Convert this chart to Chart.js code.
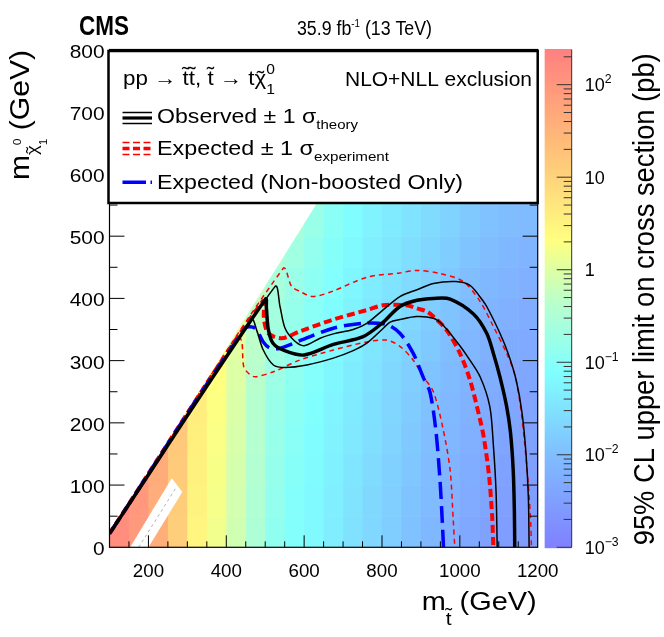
<!DOCTYPE html>
<html>
<head>
<meta charset="utf-8">
<script src="https://cdn.jsdelivr.net/npm/chart.js@4.4.1/dist/chart.umd.min.js"></script>
<style>
html, body { margin: 0; padding: 0; background: #fff; }
canvas { display: block; }
</style>
</head>
<body>
<canvas id="limitChart" width="664" height="637"></canvas>
<script>
'use strict'

// binning of the limit map (GeV)
const mStopBins = [100, 150, 200, 250, 300, 350, 400, 450, 500, 550, 600, 650, 700, 750, 800, 850, 900, 950, 1000, 1050, 1100, 1150, 1200];
const mLspBins = [0, 50, 100, 150, 200, 250, 300, 350, 400, 450, 500, 550, 600];

// 95% CL upper limit on cross section (pb), one row per mLSP bin from the bottom, null = not scanned
const limitRows = [
	[140, 90, 40, 12, 3.0, 1.6, 0.75, 0.32, 0.13, 0.085, 0.064, 0.045, 0.031, 0.022, 0.016, 0.011, 0.0080, 0.0060, 0.0045, 0.0036, 0.0031, 0.0028],
	[150, 95, 42, 13, 3.2, 1.7, 0.79, 0.34, 0.14, 0.090, 0.067, 0.047, 0.033, 0.023, 0.017, 0.012, 0.0086, 0.0065, 0.0050, 0.0039, 0.0033, 0.0030],
	[null, 100, 45, 14, 3.4, 1.8, 0.83, 0.36, 0.15, 0.096, 0.071, 0.050, 0.035, 0.025, 0.018, 0.013, 0.0092, 0.0070, 0.0054, 0.0042, 0.0036, 0.0032],
	[null, null, 48, 15, 3.6, 1.9, 0.88, 0.38, 0.16, 0.10, 0.075, 0.053, 0.038, 0.027, 0.020, 0.014, 0.010, 0.0076, 0.0059, 0.0046, 0.0039, 0.0035],
	[null, null, null, 16, 3.9, 2.0, 0.93, 0.40, 0.17, 0.11, 0.080, 0.057, 0.041, 0.029, 0.021, 0.015, 0.011, 0.0083, 0.0064, 0.0050, 0.0042, 0.0038],
	[null, null, null, null, 4.2, 2.1, 0.98, 0.43, 0.18, 0.12, 0.086, 0.061, 0.044, 0.032, 0.023, 0.017, 0.012, 0.0090, 0.0070, 0.0055, 0.0046, 0.0042],
	[null, null, null, null, null, 2.3, 1.05, 0.46, 0.20, 0.13, 0.094, 0.066, 0.048, 0.035, 0.026, 0.019, 0.014, 0.010, 0.0078, 0.0062, 0.0052, 0.0047],
	[null, null, null, null, null, null, 1.15, 0.50, 0.23, 0.15, 0.10, 0.073, 0.053, 0.038, 0.029, 0.022, 0.016, 0.012, 0.0088, 0.0070, 0.0060, 0.0053],
	[null, null, null, null, null, null, null, 0.56, 0.27, 0.17, 0.115, 0.081, 0.058, 0.042, 0.032, 0.025, 0.018, 0.014, 0.010, 0.0080, 0.0068, 0.0060],
	[null, null, null, null, null, null, null, null, 0.33, 0.21, 0.135, 0.091, 0.065, 0.047, 0.036, 0.028, 0.021, 0.016, 0.012, 0.0095, 0.0080, 0.0070],
	[null, null, null, null, null, null, null, null, null, 0.26, 0.17, 0.105, 0.073, 0.053, 0.041, 0.032, 0.025, 0.019, 0.014, 0.011, 0.0095, 0.0085],
	[null, null, null, null, null, null, null, null, null, null, 0.20, 0.13, 0.083, 0.060, 0.046, 0.036, 0.028, 0.021, 0.016, 0.013, 0.011, 0.010]
];

// edge of the scanned region and the m(stop) - m(LSP) = m(top) corridor
const scanEdge = [[100, 20], [880, 800]];
const topCorridor = [[153, 0], [200, 0], [287, 89], [260, 111]];
const topCorridorLine = [[175, 0], [273, 98]];

// exclusion contours (m stop, m LSP)
const observed = [[100, 22], [501, 399], [503, 385], [508, 350], [520, 328], [550, 316], [600, 309], [675, 326], [750, 338], [800, 360], [846, 387], [890, 397], [932, 400], [975, 399], [1035, 375], [1069, 344], [1086, 312], [1103, 274], [1120, 227], [1130, 185], [1137, 125], [1140, 60], [1141, 0]];
const observedUp = [[100, 22], [525, 419], [538, 387], [551, 352], [575, 332], [600, 324], [641, 336], [675, 343], [726, 350], [761, 360], [800, 380], [846, 403], [890, 414], [932, 424], [990, 427], [1026, 421], [1050, 404], [1069, 387], [1103, 344], [1125, 310], [1145, 268], [1160, 215], [1170, 150], [1176, 80], [1178, 0]];
const observedDown = [[100, 22], [465, 366], [478, 349], [495, 317], [521, 293], [551, 289], [607, 293], [675, 304], [726, 316], [761, 328], [800, 350], [821, 362], [846, 366], [889, 371], [932, 368], [957, 357], [1000, 324], [1018, 308], [1052, 274], [1077, 226], [1086, 165], [1093, 90], [1096, 0]];
const expected = [[100, 22], [493, 395], [497, 365], [508, 344], [542, 336], [589, 347], [675, 366], [760, 381], [803, 389], [863, 389], [889, 384], [915, 379], [932, 371], [966, 349], [1000, 312], [1026, 269], [1052, 205], [1062, 175], [1075, 115], [1083, 50], [1086, 0]];
const expectedUp = [[100, 22], [546, 448], [568, 419], [590, 411], [623, 403], [675, 412], [761, 434], [846, 441], [890, 445], [949, 440], [1009, 427], [1052, 395], [1086, 355], [1120, 312], [1140, 280], [1155, 230], [1166, 170], [1176, 100], [1182, 40], [1184, 0]];
const expectedDown = [[100, 22], [432, 337], [440, 330], [445, 290], [460, 278], [474, 274], [521, 282], [589, 301], [675, 317], [761, 330], [812, 333], [846, 323], [880, 301], [906, 274], [932, 250], [957, 190], [975, 124], [983, 44], [987, 0]];
const nonBoosted = [[100, 22], [448, 352], [474, 352], [495, 330], [512, 320], [538, 320], [589, 332], [675, 352], [750, 360], [812, 358], [846, 344], [880, 312], [906, 273], [923, 250], [938, 190], [949, 108], [955, 40], [958, 0]];

// axes
const xTicks = [200, 400, 600, 800, 1000, 1200];
const yTicks = [0, 100, 200, 300, 400, 500, 600, 700, 800];
const zTicks = [0.001, 0.01, 0.1, 1, 10, 100];
const zTickLabels = [['10', '\u22123'], ['10', '\u22122'], ['10', '\u22121'], ['1', ''], ['10', ''], ['10', '2']];

const paletteStops = [
	[0, [128, 128, 255]], [0.186, [128, 190, 255]], [0.351, [128, 255, 255]], [0.49, [185, 255, 205]],
	[0.617, [255, 255, 128]], [0.82, [255, 185, 120]], [1, [255, 128, 128]]
];

const FONT = "'Liberation Sans', Arial, sans-serif";

let fontOf = (px, bold) => (bold ? 'bold ' : '') + px + 'px ' + FONT;

let colourAt = (f) => {
	f = Math.max(0, Math.min(1, f));
	for (let i = 1; i < paletteStops.length; i++) {
		if (f <= paletteStops[i][0]) {
			let a = paletteStops[i - 1], b = paletteStops[i];
			let t = (f - a[0]) / (b[0] - a[0]);
			let c = a[1].map((v, k) => Math.round(v + (b[1][k] - v) * t));
			return 'rgb(' + c.join(',') + ')';
		}
	}
	return 'rgb(255,128,128)';
};

let colourFor = (zs, v) => colourAt((zs.bottom - zs.getPixelForValue(v)) / (zs.bottom - zs.top));

// text with sub/superscripts and tildes, optionally squeezed to a given length
let segWidth = (ctx, seg, size, bold) => {
	if (seg.sup !== undefined) {
		ctx.font = fontOf(size * seg.ss, bold);
		return Math.max(ctx.measureText(seg.sup).width, ctx.measureText(seg.sub).width);
	}
	ctx.font = fontOf(size * (seg.s || 1), bold);
	return ctx.measureText(seg.t).width;
};

let drawRich = (ctx, segs, o) => {
	ctx.save();
	let widths = segs.map((seg) => segWidth(ctx, seg, o.size, o.bold));
	let total = widths.reduce((a, b) => a + b, 0);
	let hs = o.fit ? o.fit / total : (o.hs || 1);
	ctx.translate(o.x, o.y);
	if (o.rot) ctx.rotate(o.rot);
	ctx.scale(hs, 1);
	let cx = o.align === 'right' ? -total : (o.align === 'center' ? -total / 2 : 0);
	ctx.fillStyle = o.color || '#000';
	ctx.textBaseline = 'alphabetic';
	ctx.textAlign = 'left';
	segs.forEach((seg, i) => {
		if (seg.sup !== undefined) {
			ctx.font = fontOf(o.size * seg.ss, o.bold);
			ctx.fillText(seg.sup, cx, seg.supDy * o.size);
			ctx.fillText(seg.sub, cx, seg.subDy * o.size);
		} else {
			let px = o.size * (seg.s || 1);
			let dy = (seg.dy || 0) * o.size;
			ctx.font = fontOf(px, o.bold);
			ctx.fillText(seg.t, cx, dy);
			if (seg.tilde) {
				let tw = ctx.measureText('\u02DC').width;
				ctx.fillText('\u02DC', cx + (widths[i] - tw) / 2, dy + (seg.tdy || 0) * px);
			}
		}
		cx += widths[i];
	});
	ctx.restore();
};

let line = (ctx, x0, y0, x1, y1) => {
	ctx.beginPath();
	ctx.moveTo(x0, y0);
	ctx.lineTo(x1, y1);
	ctx.stroke();
};

let limitMap = {
	id: 'limitMap',
	beforeDatasetsDraw(chart) {
		let ctx = chart.ctx, area = chart.chartArea;
		let xs = chart.scales.x, ys = chart.scales.y, zs = chart.scales.z;
		ctx.save();
		ctx.beginPath();
		ctx.rect(area.left, area.top, area.right - area.left, area.bottom - area.top);
		ctx.clip();
		ctx.beginPath();
		ctx.moveTo(xs.getPixelForValue(xs.min), ys.getPixelForValue(ys.min));
		scanEdge.forEach((p) => ctx.lineTo(xs.getPixelForValue(p[0]), ys.getPixelForValue(p[1])));
		ctx.lineTo(xs.getPixelForValue(xs.max), ys.getPixelForValue(ys.max));
		ctx.lineTo(xs.getPixelForValue(xs.max), ys.getPixelForValue(ys.min));
		ctx.closePath();
		ctx.clip();
		limitRows.forEach((row, r) => {
			let yTop = ys.getPixelForValue(mLspBins[r + 1]);
			let yBot = ys.getPixelForValue(mLspBins[r]);
			row.forEach((v, c) => {
				if (v === null) return;
				let x0 = xs.getPixelForValue(mStopBins[c]);
				let x1 = xs.getPixelForValue(mStopBins[c + 1]);
				ctx.fillStyle = colourFor(zs, v);
				ctx.fillRect(x0, yTop, x1 - x0 + 0.6, yBot - yTop + 0.6);
			});
		});
		ctx.restore();

		// top corridor
		ctx.save();
		ctx.beginPath();
		ctx.rect(area.left, area.top, area.right - area.left, area.bottom - area.top);
		ctx.clip();
		ctx.fillStyle = '#fff';
		ctx.beginPath();
		topCorridor.forEach((p, i) => {
			let px = xs.getPixelForValue(p[0]), py = ys.getPixelForValue(p[1]);
			if (i === 0) ctx.moveTo(px, py); else ctx.lineTo(px, py);
		});
		ctx.closePath();
		ctx.fill();
		ctx.strokeStyle = '#b4b4b4';
		ctx.lineWidth = 1;
		ctx.setLineDash([3, 3]);
		line(ctx, xs.getPixelForValue(topCorridorLine[0][0]), ys.getPixelForValue(topCorridorLine[0][1]),
			xs.getPixelForValue(topCorridorLine[1][0]), ys.getPixelForValue(topCorridorLine[1][1]));
		ctx.restore();
	},
	afterDraw(chart) {
		let ctx = chart.ctx, area = chart.chartArea;
		let xs = chart.scales.x, ys = chart.scales.y, zs = chart.scales.z;
		ctx.save();
		ctx.strokeStyle = '#000';
		ctx.lineWidth = 1;

		// ticks, pointing inwards
		for (let v = 150; v < xs.max; v += 50) {
			let px = xs.getPixelForValue(v);
			let len = xTicks.includes(v) ? 12 : 6;
			line(ctx, px, area.bottom, px, area.bottom - len);
			line(ctx, px, area.top, px, area.top + len);
		}
		for (let v = 50; v < ys.max; v += 50) {
			let py = ys.getPixelForValue(v);
			let len = yTicks.includes(v) ? 15 : 8;
			line(ctx, area.left, py, area.left + len, py);
			line(ctx, area.right, py, area.right - len, py);
		}
		ctx.lineWidth = 1.2;
		ctx.strokeRect(area.left, area.top, area.right - area.left, area.bottom - area.top);

		// tick labels
		xTicks.forEach((v) => {
			drawRich(ctx, [{t: String(v)}], {x: xs.getPixelForValue(v), y: area.bottom + 30, size: 18, hs: 1.04, align: 'center'});
		});
		yTicks.forEach((v) => {
			drawRich(ctx, [{t: String(v)}], {x: area.left - 5, y: ys.getPixelForValue(v) + 8, size: 19, hs: 1.1, align: 'right'});
		});

		// colour scale
		let cbLeft = zs.left + 7, cbRight = zs.left + 34;
		for (let py = Math.floor(zs.top); py < zs.bottom; py++) {
			ctx.fillStyle = colourFor(zs, zs.getValueForPixel(py + 0.5));
			ctx.fillRect(cbLeft, py, cbRight - cbLeft, 1.2);
		}
		ctx.strokeStyle = '#333';
		ctx.lineWidth = 1;
		line(ctx, cbRight, zs.top, cbRight, zs.bottom);
		for (let d = -3; d <= 2; d++) {
			for (let k = 1; k <= 9; k++) {
				let v = k * Math.pow(10, d);
				if (v > zs.max) break;
				let py = zs.getPixelForValue(v);
				line(ctx, cbRight, py, cbRight - (k === 1 ? 15 : 8), py);
			}
		}
		zTicks.forEach((v, i) => {
			let lab = zTickLabels[i];
			let segs = [{t: lab[0]}];
			if (lab[1]) segs.push({t: lab[1], s: 0.68, dy: -0.45});
			drawRich(ctx, segs, {x: cbRight + 13, y: zs.getPixelForValue(v) + 6.5, size: 18});
		});
		drawRich(ctx, [{t: '95% CL upper limit on cross section (pb)'}],
			{x: 654, y: zs.bottom - 2, size: 30, fit: 492, rot: -Math.PI / 2});

		// legend box
		ctx.fillStyle = '#fff';
		ctx.fillRect(area.left - 1, area.top + 1.5, area.right - area.left + 1, 152);
		ctx.strokeStyle = '#000';
		ctx.lineWidth = 2.5;
		ctx.strokeRect(area.left - 1, area.top + 1.5, area.right - area.left + 1, 152);

		let lx0 = area.left + 13, lx1 = area.left + 42.5;
		ctx.lineWidth = 1.5;
		line(ctx, lx0, 112.5, lx1, 112.5);
		line(ctx, lx0, 123.5, lx1, 123.5);
		ctx.lineWidth = 3.2;
		line(ctx, lx0, 118, lx1, 118);
		ctx.strokeStyle = '#ff0000';
		ctx.setLineDash([7, 3.5]);
		ctx.lineWidth = 1.5;
		line(ctx, lx0, 142.5, lx1, 142.5);
		line(ctx, lx0, 154.5, lx1, 154.5);
		ctx.lineWidth = 3.5;
		line(ctx, lx0, 148.5, lx1, 148.5);
		ctx.strokeStyle = '#0000ff';
		ctx.setLineDash([23.5, 4.5]);
		ctx.lineWidth = 3.5;
		line(ctx, lx0, 182.3, lx1, 182.3);
		ctx.setLineDash([]);

		drawRich(ctx, [
			{t: 'pp \u2192 '}, {t: 't', tilde: true, tdy: -0.2}, {t: 't', tilde: true, tdy: -0.2}, {t: ', '},
			{t: 't', tilde: true, tdy: -0.2}, {t: ' \u2192 t'}, {t: '\u03C7', tilde: true},
			{sup: '0', sub: '1', ss: 0.7, supDy: -0.55, subDy: 0.45}
		], {x: 123, y: 85, size: 20, fit: 152});
		drawRich(ctx, [{t: 'NLO+NLL exclusion'}], {x: 532, y: 85.7, size: 19.5, fit: 187, align: 'right'});
		drawRich(ctx, [{t: 'Observed \u00B1 1 \u03C3'}, {t: 'theory', s: 0.65, dy: 0.28}], {x: 157, y: 123.3, size: 20, fit: 201});
		drawRich(ctx, [{t: 'Expected \u00B1 1 \u03C3'}, {t: 'experiment', s: 0.65, dy: 0.28}], {x: 157, y: 155, size: 20, fit: 232});
		drawRich(ctx, [{t: 'Expected (Non-boosted Only)'}], {x: 157, y: 189, size: 20, fit: 306});

		// axis titles
		drawRich(ctx, [{t: 'm'}, {t: 't', s: 0.72, dy: 0.56, tilde: true, tdy: -0.2}, {t: ' (GeV)'}],
			{x: 421.7, y: 610, size: 26, fit: 115});
		drawRich(ctx, [{t: 'm'}, {t: '\u03C7', s: 0.62, dy: 0.32, tilde: true},
			{sup: '0', sub: '1', ss: 0.4, supDy: -0.3, subDy: 0.65}, {t: ' (GeV)'}],
			{x: 29, y: 50, size: 28, fit: 130, rot: -Math.PI / 2, align: 'right'});

		// header
		drawRich(ctx, [{t: 'CMS'}], {x: 79, y: 35, size: 27, bold: true, fit: 50});
		drawRich(ctx, [{t: '35.9 fb'}, {t: '-1', s: 0.55, dy: -0.4}, {t: ' (13 TeV)'}], {x: 297, y: 35, size: 20, fit: 135});
		ctx.restore();
	}
};

let pts = (arr) => arr.map((p) => ({x: p[0], y: p[1]}));

let contour = (data, colour, width, dash) => ({
	data: pts(data),
	showLine: true,
	borderColor: colour,
	backgroundColor: colour,
	borderWidth: width,
	borderDash: dash,
	pointRadius: 0,
	tension: 0.3,
	fill: false,
	xAxisID: 'x',
	yAxisID: 'y'
});

let ctx = document.getElementById('limitChart').getContext('2d');
new Chart(ctx, {
	type: 'scatter',
	data: {
		datasets: [
			contour(observed, '#000000', 3.5, []),
			contour(observedUp, '#000000', 1.5, []),
			contour(observedDown, '#000000', 1.5, []),
			contour(nonBoosted, '#0000ff', 3.5, [17, 7]),
			contour(expected, '#ff0000', 4, [8, 4]),
			contour(expectedUp, '#ff0000', 1.5, [5, 4]),
			contour(expectedDown, '#ff0000', 1.5, [5, 4])
		]
	},
	options: {
		responsive: false,
		animation: false,
		devicePixelRatio: 1,
		layout: { padding: { top: 49.5, left: 0, right: 0, bottom: 0 } },
		plugins: { legend: { display: false }, tooltip: { enabled: false } },
		scales: {
			x: {
				type: 'linear', min: 100, max: 1200,
				ticks: { display: false }, grid: { display: false }, border: { display: false },
				afterFit: (s) => { s.height = 89.7; }
			},
			y: {
				type: 'linear', min: 0, max: 800,
				ticks: { display: false }, grid: { display: false }, border: { display: false },
				afterFit: (s) => { s.width = 109.5; }
			},
			z: {
				type: 'logarithmic', position: 'right', min: 0.001, max: 240,
				ticks: { display: false }, grid: { display: false }, border: { display: false },
				afterFit: (s) => { s.width = 126.3; }
			}
		}
	},
	plugins: [limitMap]
});
</script>
</body>
</html>
